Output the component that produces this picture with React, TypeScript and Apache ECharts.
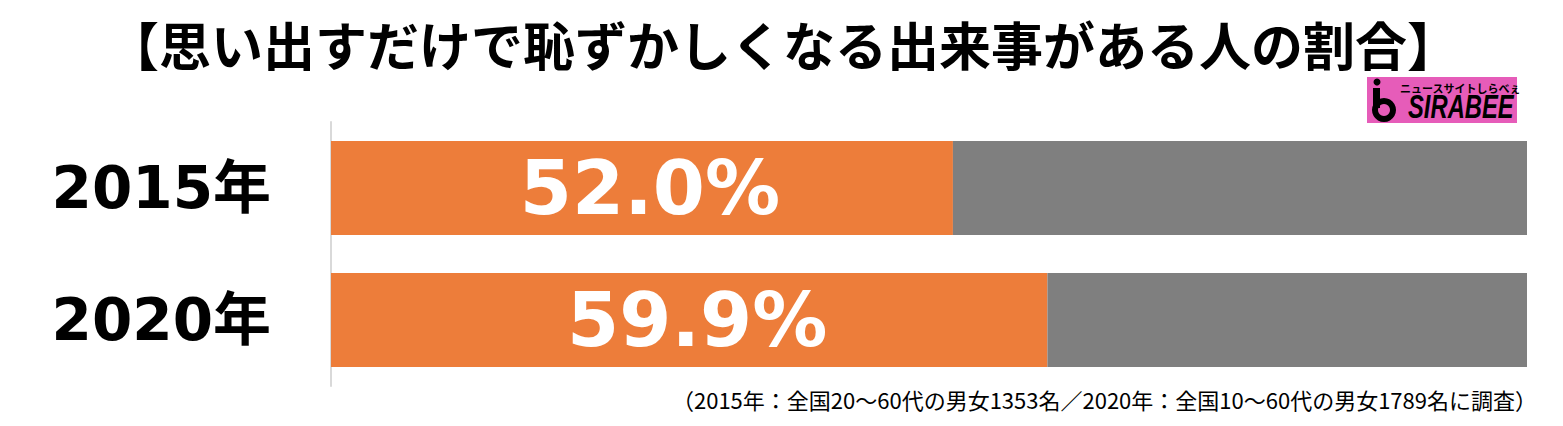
import React, { useEffect, useRef } from "react";
import * as echarts from "echarts";

const titleText = "【思い出すだけで恥ずかしくなる出来事がある人の割合】";
const categories = ["2015年", "2020年"];
const yesValues = [52.0, 59.9];
const restValues = [48.0, 40.1];
const footnote =
  "（2015年：全国20〜60代の男女1353名／2020年：全国10〜60代の男女1789名に調査）";

export default function App() {
  const ref = useRef<HTMLDivElement>(null);
  useEffect(() => {
    if (!ref.current) return;
    const chart = echarts.init(ref.current, null, { renderer: "svg" });
    chart.setOption({
      animation: false,
      backgroundColor: "#ffffff",
      title: {
        text: titleText,
        left: 778,
        textAlign: "center",
        top: 12,
        textStyle: {
          fontFamily: "Noto Sans CJK JP",
          fontWeight: "bold",
          fontSize: 52,
          color: "#000000",
        },
      },
      grid: { left: 331, right: 36, top: 122, height: 264, containLabel: false },
      xAxis: {
        type: "value",
        min: 0,
        max: 100,
        show: false,
      },
      yAxis: {
        type: "category",
        data: categories,
        inverse: true,
        axisLine: { show: true, lineStyle: { color: "#d9d9d9", width: 2 } },
        axisTick: { show: false },
        axisLabel: {
          margin: 60,
          fontFamily: "DejaVu Sans, Noto Sans CJK JP",
          fontWeight: "bold",
          fontSize: 58,
          color: "#000000",
        },
      },
      series: [
        {
          type: "bar",
          stack: "total",
          data: yesValues,
          barWidth: 94,
          itemStyle: { color: "#ED7D3A" },
          label: {
            show: true,
            position: "inside",
            offset: [8, 0],
            formatter: (p: any) => p.value.toFixed(1) + "%",
            fontFamily: "DejaVu Sans",
            fontWeight: "bold",
            fontSize: 75,
            color: "#ffffff",
          },
        },
        {
          type: "bar",
          stack: "total",
          data: restValues,
          barWidth: 94,
          itemStyle: { color: "#7F7F7F" },
        },
      ],
      graphic: [
        {
          type: "text",
          right: 26,
          top: 388,
          style: {
            text: footnote,
            fontFamily: "Noto Sans CJK JP",
            fontSize: 22,
            fill: "#000000",
          },
        },
        {
          type: "group",
          children: [
            { type: "rect", shape: { x: 1367, y: 77, width: 150, height: 46 }, style: { fill: "#E65CB9" } },
            { type: "circle", shape: { cx: 1377, cy: 82, r: 3.5 }, style: { fill: "#000" } },
            { type: "rect", shape: { x: 1373, y: 88, width: 7, height: 20 }, style: { fill: "#000" } },
            {
              type: "ring",
              shape: { cx: 1384, cy: 110, r: 12, r0: 6 },
              style: { fill: "#000" },
            },
            {
              type: "text",
              x: 1400,
              y: 88,
              style: {
                text: "ニュースサイトしらべぇ",
                fontFamily: "Noto Sans CJK JP",
                fontWeight: "bold",
                fontSize: 11,
                fill: "#000",
                textVerticalAlign: "middle",
              },
            },
            {
              type: "text",
              x: 1408,
              y: 106,
              scaleX: 0.7,
              style: {
                text: "SIRABEE",
                fontFamily: "Liberation Sans",
                fontWeight: "bold",
                fontStyle: "italic",
                fontSize: 34,
                fill: "#000",
                textVerticalAlign: "middle",
              },
            },
          ],
        },
      ],
    });
    return () => chart.dispose();
  }, []);
  return (
    <div
      ref={ref}
      style={{ position: "fixed", left: 0, top: 0, width: 1563, height: 426 }}
    />
  );
}
